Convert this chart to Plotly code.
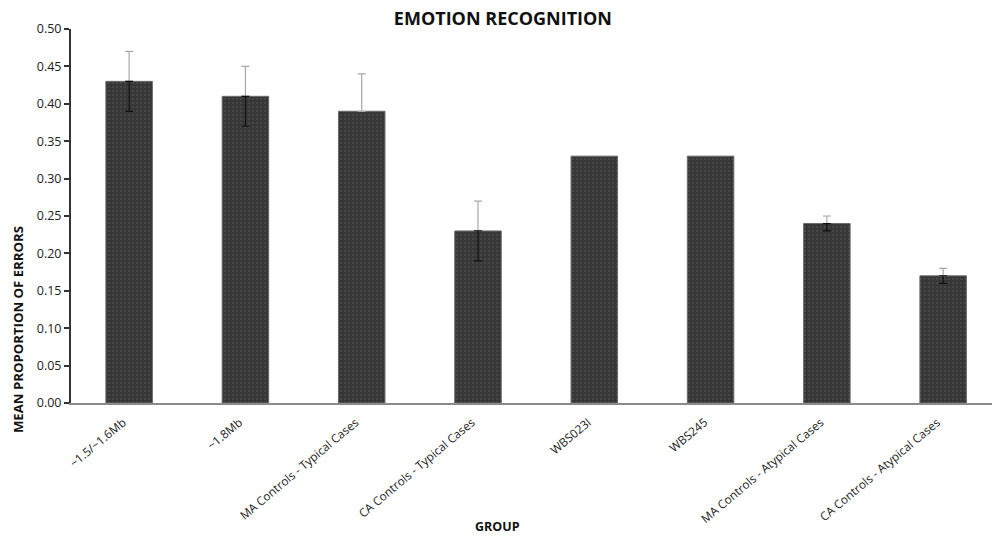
import plotly.graph_objects as go

groups = [
    "~1.5/~1.6Mb",
    "~1.8Mb",
    "MA Controls - Typical Cases",
    "CA Controls - Typical Cases",
    "WBS023I",
    "WBS245",
    "MA Controls - Atypical Cases",
    "CA Controls - Atypical Cases",
]
mean_errors = [0.43, 0.41, 0.39, 0.23, 0.33, 0.33, 0.24, 0.17]
# Error bar extents (single cases have none)
err_upper = [0.04, 0.04, 0.05, 0.04, None, None, 0.01, 0.01]
err_lower = [0.04, 0.04, None, 0.04, None, None, 0.01, 0.01]
y_ticks = [0.00, 0.05, 0.10, 0.15, 0.20, 0.25, 0.30, 0.35, 0.40, 0.45, 0.50]

FONT = "Open Sans"

fig = go.Figure()

# Bars
fig.add_trace(go.Bar(
    x=groups,
    y=mean_errors,
    width=0.4,
    marker=dict(
        color="#3b3b3b",
        line=dict(color="#6a6a6a", width=1),
        pattern=dict(shape=".", fgcolor="#575757", bgcolor="#353535",
                     size=4, solidity=0.35),
    ),
    showlegend=False,
))

# Upper whiskers (light grey above the bars)
up_idx = [i for i, e in enumerate(err_upper) if e is not None]
fig.add_trace(go.Scatter(
    x=[groups[i] for i in up_idx],
    y=[mean_errors[i] for i in up_idx],
    mode="markers",
    marker=dict(size=1, color="rgba(0,0,0,0)"),
    error_y=dict(type="data", symmetric=False,
                 array=[err_upper[i] for i in up_idx],
                 arrayminus=[0] * len(up_idx),
                 color="#a8a8a8", thickness=1.2, width=4),
    showlegend=False,
    hoverinfo="skip",
))

# Lower whiskers, drawn dark over the bar fill
lo_idx = [i for i, e in enumerate(err_lower) if e is not None]
fig.add_trace(go.Scatter(
    x=[groups[i] for i in lo_idx],
    y=[mean_errors[i] for i in lo_idx],
    mode="markers",
    marker=dict(size=1, color="rgba(0,0,0,0)"),
    error_y=dict(type="data", symmetric=False,
                 array=[0] * len(lo_idx),
                 arrayminus=[err_lower[i] for i in lo_idx],
                 color="#111111", thickness=1.2, width=4),
    showlegend=False,
    hoverinfo="skip",
))

fig.update_layout(
    width=992,
    height=539,
    margin=dict(l=71, r=0, t=29, b=136),
    paper_bgcolor="white",
    plot_bgcolor="white",
    bargap=0.6,
    title=dict(text="<b>EMOTION RECOGNITION</b>", x=0.507, xanchor="center",
               y=0.966, yanchor="middle",
               font=dict(family=FONT, size=18, color="#111111")),
    font=dict(family=FONT, color="#222222"),
)

fig.update_xaxes(
    type="category",
    categoryorder="array",
    categoryarray=groups,
    range=[-0.5, 7.42],
    automargin=False,
    tickangle=-40,
    tickfont=dict(family=FONT, size=11.8, color="#222222"),
    ticklabelstandoff=6,
    ticklabelshift=-6,
    showline=True,
    linecolor="#8a8a8a",
    linewidth=2,
    ticks="",
    showgrid=False,
    zeroline=False,
)

fig.update_yaxes(
    range=[0, 0.5],
    automargin=False,
    tickvals=y_ticks,
    tickformat=".2f",
    tickfont=dict(family=FONT, size=12.5, color="#222222"),
    ticks="outside",
    ticklen=5,
    tickwidth=1.5,
    tickcolor="#333333",
    showline=True,
    linecolor="#333333",
    linewidth=2,
    showgrid=False,
    zeroline=False,
)

# Axis titles placed as annotations
fig.add_annotation(
    text="<b>MEAN PROPORTION OF ERRORS</b>",
    xref="paper", yref="paper",
    x=-0.0575, y=0.195,
    xanchor="center", yanchor="middle",
    textangle=-90, showarrow=False,
    font=dict(family=FONT, size=13.2, color="#111111"),
)
fig.add_annotation(
    text="<b>GROUP</b>",
    xref="paper", yref="paper",
    x=0.463, y=-0.33,
    xanchor="center", yanchor="middle",
    showarrow=False,
    font=dict(family=FONT, size=12.5, color="#111111"),
)

fig.write_html("out.html")
